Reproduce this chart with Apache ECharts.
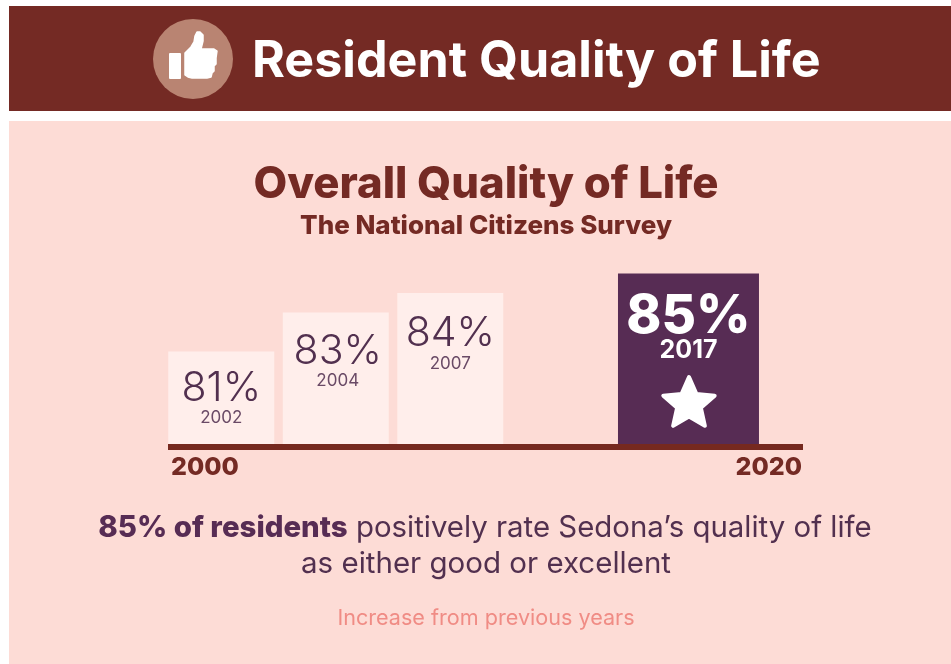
<!DOCTYPE html>
<html>
<head>
<meta charset="utf-8">
<title>Resident Quality of Life</title>
<style>html,body{margin:0;padding:0;background:#fff}#chart{width:951px;height:664px}</style>
<script src="https://cdn.jsdelivr.net/npm/echarts@6/dist/echarts.min.js"></script>
</head>
<body>
<div id="chart"></div>
<script>
// Survey results
const surveyYears = ['2002', '2004', '2007'];
const surveyRatings = [81, 83, 84];
const latestYear = ['2017'];
const latestRating = [85];
const timelineLabels = ['2000', '2020'];

// Stops along the timeline; the infographic spaces them by layout rather than by calendar
const surveyStops = [0.93, 2.93, 4.93];
const latestStops = [9.09];
const timelineEnd = 11.09;

const FONT = 'Inter, "Noto Sans", sans-serif';
const WINE = '#742a24', PLUM = '#572c54', PINK = '#fddcd6', INK = '#52304f';

// Small nudges that keep each label nicely seated in its bar
const surveyLabelNudge = [[0, 1], [2, 3], [0, 5]];
const latestLabelNudge = [[0, 2]];

function barData(stops, values, years, nudges) {
  return values.map((v, i) => ({
    value: [stops[i], v],
    year: years[i],
    label: { offset: nudges[i] }
  }));
}

// Five-point star; the round-joined stroke softens its tips
function starPoints(cx, cy, outer, inner) {
  const pts = [];
  for (let i = 0; i < 10; i++) {
    const r = i % 2 ? inner : outer;
    const a = -Math.PI / 2 + i * Math.PI / 5;
    pts.push([cx + r * Math.cos(a), cy + r * Math.sin(a)]);
  }
  return pts;
}

// Outline of the thumbs-up hand
const thumbOutline = [
  [185, 53], [191, 47], [194, 42], [195, 36], [197, 32], [200, 32], [203, 35], [203, 41], [201, 49],
  [214, 49], [217, 51], [216, 58], [216, 64], [214, 66], [214, 71], [212, 73], [211, 77], [207, 78],
  [192, 78], [188, 77], [185, 75]
];

const hiddenX = { type: 'value', min: 0, max: timelineEnd, show: false };

const option = {
  animation: false,
  backgroundColor: '#ffffff',
  textStyle: { fontFamily: FONT },
  title: [
    { text: 'Resident Quality of Life', left: 247, top: 32,
      textStyle: { color: '#fff', fontFamily: FONT, fontWeight: 700, fontSize: 50.2 } },
    { text: 'Overall Quality of Life', left: 481, top: 158, textAlign: 'center',
      textStyle: { color: WINE, fontFamily: FONT, fontWeight: 800, fontSize: 43.7 } },
    { text: 'The National Citizens Survey', left: 481, top: 208, textAlign: 'center',
      textStyle: { color: WINE, fontFamily: FONT, fontWeight: 800, fontSize: 26 } },
    { text: '{b|85% of residents} {n|positively rate Sedona’s quality of life}', left: 480, top: 509, textAlign: 'center',
      textStyle: { color: INK, fontFamily: FONT, fontWeight: 400, fontSize: 29.4,
        rich: {
          b: { color: PLUM, fontFamily: FONT, fontWeight: 800, fontSize: 29.4 },
          n: { color: INK, fontFamily: FONT, fontWeight: 400, fontSize: 29.4 }
        } } },
    { text: 'as either good or excellent', left: 481, top: 544, textAlign: 'center',
      textStyle: { color: INK, fontFamily: FONT, fontWeight: 400, fontSize: 29.5 } },
    { text: 'Increase from previous years', left: 481, top: 602, textAlign: 'center',
      textStyle: { color: '#f08c85', fontFamily: FONT, fontWeight: 400, fontSize: 21.6 } }
  ],
  grid: { left: 168, right: 148, top: 249, bottom: 220 },
  xAxis: [
    {
      type: 'value', min: 0, max: timelineEnd, offset: 3,
      axisLine: { show: true, onZero: false, lineStyle: { color: '#76291f', width: 6, cap: 'butt' } },
      axisTick: { show: false },
      splitLine: { show: false },
      axisLabel: {
        customValues: [0, timelineEnd],
        color: WINE, fontFamily: FONT, fontWeight: 800, fontSize: 25, margin: 8,
        alignMinLabel: 'left', alignMaxLabel: 'right',
        padding: [0, 1, 0, 3],
        formatter: v => (v === 0 ? timelineLabels[0] : timelineLabels[1])
      }
    },
    hiddenX
  ],
  yAxis: { type: 'value', min: 76.25, max: 86.25, show: false },
  graphic: [
    { type: 'rect', z: -10, shape: { x: 9, y: 6, width: 942, height: 105 }, style: { fill: WINE } },
    { type: 'rect', z: -10, shape: { x: 9, y: 121, width: 942, height: 543 }, style: { fill: PINK } },
    { type: 'circle', z: 5, shape: { cx: 193, cy: 59, r: 40 }, style: { fill: '#b98472' } },
    { type: 'rect', z: 6, shape: { x: 169, y: 53, width: 12, height: 26, r: 1 }, style: { fill: '#fff' } },
    { type: 'polygon', z: 6, shape: { points: thumbOutline },
      style: { fill: '#fff', stroke: '#fff', lineWidth: 1.5, lineJoin: 'round' } },
    { type: 'polygon', z: 10, shape: { points: starPoints(689, 404, 27, 12.5) },
      style: { fill: '#fff', stroke: '#fff', lineWidth: 4, lineJoin: 'round' } }
  ],
  series: [
    {
      name: 'Earlier surveys', type: 'bar', xAxisIndex: 0, barWidth: 106,
      data: barData(surveyStops, surveyRatings, surveyYears, surveyLabelNudge),
      itemStyle: { color: '#ffeeeb' },
      label: {
        show: true, position: 'insideTop', distance: 14,
        formatter: p => `{v|${p.value[1]}%}\n{y|${p.data.year}}`,
        rich: {
          v: { color: INK, fontFamily: FONT, fontSize: 41, fontWeight: 300, lineHeight: 44, align: 'center' },
          y: { color: '#6a4a66', fontFamily: FONT, fontSize: 17, lineHeight: 16, align: 'center' }
        }
      }
    },
    {
      name: 'Latest survey', type: 'bar', xAxisIndex: 1, barWidth: 141,
      data: barData(latestStops, latestRating, latestYear, latestLabelNudge),
      itemStyle: { color: PLUM },
      label: {
        show: true, position: 'insideTop', distance: 16,
        formatter: p => `{v|${p.value[1]}%}\n{y|${p.data.year}}`,
        rich: {
          v: { color: '#fff', fontFamily: FONT, fontSize: 53, fontWeight: 800, lineHeight: 52, align: 'center' },
          y: { color: '#fff', fontFamily: FONT, fontSize: 25, fontWeight: 700, lineHeight: 14, align: 'center' }
        }
      }
    }
  ]
};

echarts.init(document.getElementById('chart'), null, { renderer: 'canvas' }).setOption(option);
</script>
</body>
</html>
